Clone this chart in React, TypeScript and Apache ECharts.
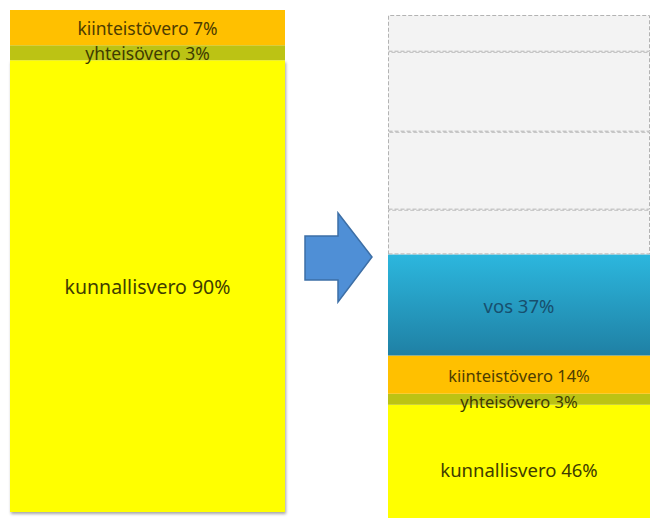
import React, { useEffect, useRef } from "react";
import * as echarts from "echarts";

// Data
const taxNames = ["kunnallisvero", "yhteisövero", "kiinteistövero", "vos"];
const beforeShares = [90, 3, 7];
const afterShares = [46, 3, 14, 37];
const beforeHeights = [90, 3, 7];
const afterHeights = [22.5, 2.2, 7.6, 20.1];
const ghostHeights = [8.9, 15.5, 15.9, 7.3];

const segColors: any[] = [
  "#ffff00",
  "#bcc314",
  "#ffc000",
  new echarts.graphic.LinearGradient(0, 0, 0, 1, [
    { offset: 0, color: "#2cb7de" },
    { offset: 1, color: "#1f80a4" },
  ]),
];
const labelColors = ["#403c00", "#3f3c00", "#4d3c00", "#174f6e"];
const beforeFont = [19.5, 17.5, 17.5];
const afterFont = [18.5, 16.5, 16.5, 18.5];
const afterOffset = [[0, 8], [0, 2], [0, 1], [0, 1]];

export default function App() {
  const ref = useRef<HTMLDivElement>(null);
  useEffect(() => {
    if (!ref.current) return;
    const chart = echarts.init(ref.current, undefined, { renderer: "svg" });
    const series: any[] = [];
    beforeHeights.forEach((h, i) => {
      series.push({
        type: "bar",
        name: "before-" + taxNames[i],
        xAxisIndex: 0,
        yAxisIndex: 0,
        stack: "before",
        barWidth: "100%",
        data: [h],
        itemStyle:
          i === 0
            ? {
                color: segColors[i],
                shadowColor: "rgba(0,0,0,0.35)",
                shadowBlur: 3,
                shadowOffsetX: 1,
                shadowOffsetY: 2,
              }
            : { color: segColors[i] },
        label: {
          show: true,
          position: "inside",
          formatter: `${taxNames[i]} ${beforeShares[i]}%`,
          color: labelColors[i],
          fontSize: beforeFont[i],
          fontFamily: "Noto Sans",
        },
      });
    });
    afterHeights.forEach((h, i) => {
      series.push({
        type: "bar",
        name: "after-" + taxNames[i],
        xAxisIndex: 1,
        yAxisIndex: 1,
        stack: "after",
        barWidth: "100%",
        data: [h],
        itemStyle: { color: segColors[i] },
        label: {
          show: true,
          position: "inside",
          offset: afterOffset[i],
          formatter: `${taxNames[i]} ${afterShares[i]}%`,
          color: labelColors[i],
          fontSize: afterFont[i],
          fontFamily: "Noto Sans",
        },
      });
    });
    ghostHeights.forEach((h, i) => {
      series.push({
        type: "bar",
        name: "ghost-" + i,
        xAxisIndex: 1,
        yAxisIndex: 1,
        stack: "after",
        barWidth: "100%",
        data: [h],
        itemStyle: {
          color: "#f3f3f3",
          borderColor: "#b3b3b3",
          borderWidth: 1,
          borderType: "dashed",
        },
        label: { show: false },
      });
    });
    chart.setOption({
      animation: false,
      backgroundColor: "#ffffff",
      grid: [
        { left: 10, top: 10, width: 275, height: 502 },
        { left: 388, top: 15, width: 262, height: 503 },
      ],
      xAxis: [
        { type: "category", gridIndex: 0, data: ["ennen"], show: false },
        { type: "category", gridIndex: 1, data: ["jälkeen"], show: false },
      ],
      yAxis: [
        { type: "value", gridIndex: 0, min: 0, max: 100, show: false },
        { type: "value", gridIndex: 1, min: 0, max: 100, show: false },
      ],
      series,
      graphic: [
        {
          type: "polygon",
          shape: {
            points: [
              [305, 236],
              [338, 236],
              [338, 213],
              [372, 257],
              [338, 302],
              [338, 280],
              [305, 280],
            ],
          },
          style: { fill: "#4f8fd6", stroke: "#3d6fa6", lineWidth: 1.5 },
        },
      ],
    });
    return () => chart.dispose();
  }, []);
  return (
    <div
      ref={ref}
      style={{ position: "absolute", left: 0, top: 0, width: 653, height: 525 }}
    />
  );
}
